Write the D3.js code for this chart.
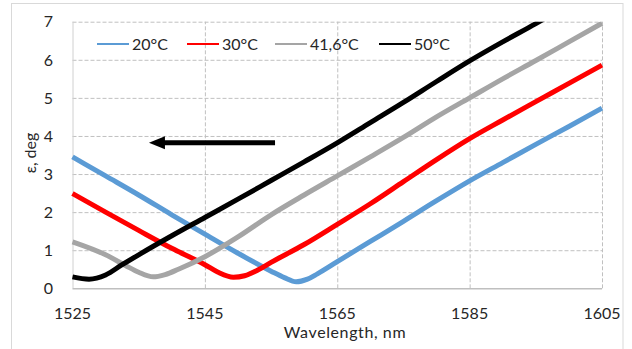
<!DOCTYPE html>
<html>
<head>
<meta charset="utf-8">
<script src="https://cdn.jsdelivr.net/npm/d3@7"></script>
<style>
  body { margin: 0; background: #fff; }
  svg { display: block; font-family: Lato, "Open Sans", sans-serif; }
</style>
</head>
<body>
<svg></svg>
<script>
const width = 632
const height = 349

// wavelength (nm) and epsilon (deg)
const wl20 = [1525, 1530, 1535, 1540, 1545, 1550, 1555, 1557, 1558.8, 1560.5, 1562, 1565, 1570, 1575, 1580, 1585, 1590, 1595, 1600, 1605]
const eps20 = [3.45, 2.95, 2.45, 1.93, 1.42, 0.92, 0.45, 0.28, 0.17, 0.24, 0.38, 0.7, 1.23, 1.76, 2.3, 2.82, 3.3, 3.78, 4.25, 4.73]

const wl30 = [1525, 1530, 1535, 1540, 1545, 1547, 1549.3, 1551, 1553, 1555, 1560, 1565, 1570, 1575, 1580, 1585, 1590, 1595, 1600, 1605]
const eps30 = [2.49, 2.0, 1.52, 1.05, 0.62, 0.42, 0.29, 0.33, 0.48, 0.68, 1.15, 1.68, 2.22, 2.8, 3.38, 3.93, 4.42, 4.9, 5.38, 5.86]

const wl416 = [1525, 1530, 1533, 1535, 1537.2, 1539, 1541, 1545, 1550, 1555, 1560, 1565, 1570, 1575, 1580, 1585, 1590, 1595, 1600, 1605]
const eps416 = [1.22, 0.88, 0.6, 0.42, 0.3, 0.36, 0.5, 0.83, 1.35, 1.93, 2.45, 2.95, 3.45, 3.96, 4.5, 5.0, 5.5, 5.98, 6.47, 6.96]

const wl50 = [1525, 1527.5, 1530, 1532.5, 1535, 1540, 1545, 1550, 1555, 1560, 1565, 1570, 1575, 1580, 1585, 1590, 1595, 1597]
const eps50 = [0.3, 0.24, 0.35, 0.62, 0.88, 1.38, 1.86, 2.34, 2.83, 3.32, 3.82, 4.35, 4.88, 5.43, 5.97, 6.47, 6.95, 7.15]

const seriesNames = ["20°C", "30°C", "41,6°C", "50°C"]
const seriesColors = ["#5b9bd5", "#ff0000", "#a5a5a5", "#000000"]

const xTicks = [1525, 1545, 1565, 1585, 1605]
const yTicks = [0, 1, 2, 3, 4, 5, 6, 7]

const series = [
  { name: seriesNames[0], color: seriesColors[0], wl: wl20, eps: eps20 },
  { name: seriesNames[1], color: seriesColors[1], wl: wl30, eps: eps30 },
  { name: seriesNames[2], color: seriesColors[2], wl: wl416, eps: eps416 },
  { name: seriesNames[3], color: seriesColors[3], wl: wl50, eps: eps50 }
]

const margin = { left: 72.5, right: 30, top: 21.7, bottom: 60.7 }

const svg = d3.select("svg")
  .attr("width", width)
  .attr("height", height)

// outer chart frame
svg.append("rect")
  .attr("x", 11.5)
  .attr("y", 3.5)
  .attr("width", 611.5)
  .attr("height", 360)
  .attr("fill", "none")
  .attr("stroke", "#d9d9d9")

const x = d3.scaleLinear()
  .domain([1525, 1605])
  .range([margin.left, width - margin.right])

const y = d3.scaleLinear()
  .domain([0, 7])
  .range([height - margin.bottom, margin.top])

// grid
const grid = svg.append("g")
  .attr("stroke", "#c0c0c0")
  .attr("stroke-dasharray", "4,2")

grid.selectAll(".hgrid")
  .data(yTicks.filter(d => d > 0))
  .enter()
  .append("line")
  .attr("x1", x(1525))
  .attr("x2", x(1605))
  .attr("y1", d => y(d) + 0.5)
  .attr("y2", d => y(d) + 0.5)

grid.selectAll(".vgrid")
  .data(xTicks.filter(d => d > 1525))
  .enter()
  .append("line")
  .attr("x1", d => x(d) + 0.5)
  .attr("x2", d => x(d) + 0.5)
  .attr("y1", y(0))
  .attr("y2", y(7))

// axis lines
svg.append("line")
  .attr("x1", x(1525)).attr("x2", x(1605))
  .attr("y1", y(0) + 0.5).attr("y2", y(0) + 0.5)
  .attr("stroke", "#bfbfbf")
  .attr("stroke-width", 1.5)

svg.append("line")
  .attr("x1", x(1525) + 0.5).attr("x2", x(1525) + 0.5)
  .attr("y1", y(0)).attr("y2", y(7))
  .attr("stroke", "#d0d0d0")

// tick labels
svg.append("g")
  .selectAll("text")
  .data(yTicks)
  .enter()
  .append("text")
  .attr("x", 53)
  .attr("y", d => y(d))
  .attr("dy", "0.36em")
  .attr("text-anchor", "end")
  .attr("font-size", 16)
  .attr("fill", "#262626")
  .text(d => d)

svg.append("g")
  .selectAll("text")
  .data(xTicks)
  .enter()
  .append("text")
  .attr("x", d => x(d))
  .attr("y", 318.5)
  .attr("text-anchor", "middle")
  .attr("font-size", 16)
  .attr("fill", "#262626")
  .text(d => d)

svg.append("text")
  .attr("x", 345)
  .attr("y", 338)
  .attr("text-anchor", "middle")
  .attr("font-size", 16)
  .attr("letter-spacing", 0.6)
  .attr("fill", "#262626")
  .text("Wavelength, nm")

svg.append("text")
  .attr("transform", "translate(36,153) rotate(-90)")
  .attr("text-anchor", "middle")
  .attr("font-size", 16)
  .attr("fill", "#262626")
  .text("ε, deg")

// data lines
svg.append("clipPath")
  .attr("id", "plotclip")
  .append("rect")
  .attr("x", x(1525) - 3)
  .attr("y", y(7))
  .attr("width", x(1605) - x(1525) + 6)
  .attr("height", y(0) - y(7))

const line = d3.line()
  .curve(d3.curveMonotoneX)
  .x(d => x(d[0]))
  .y(d => y(d[1]))

svg.append("g")
  .attr("clip-path", "url(#plotclip)")
  .selectAll("path")
  .data(series)
  .enter()
  .append("path")
  .attr("fill", "none")
  .attr("stroke", d => d.color)
  .attr("stroke-width", 5)
  .attr("stroke-linejoin", "round")
  .attr("d", d => line(d.wl.map((w, i) => [w, d.eps[i]])))

// legend
const legendX = [97, 187, 275, 379]
const legend = svg.append("g")
  .selectAll("g")
  .data(series)
  .enter()
  .append("g")
  .attr("transform", (d, i) => "translate(" + legendX[i] + ",44)")

legend.append("line")
  .attr("x1", 0)
  .attr("x2", 32)
  .attr("stroke", d => d.color)
  .attr("stroke-width", 2)

legend.append("text")
  .attr("x", 35)
  .attr("dy", "0.36em")
  .attr("font-size", 16)
  .attr("fill", "#262626")
  .text(d => d.name)

// arrow annotation (pointing to shorter wavelengths)
const arrowY = y(3.82)
const arrowTip = x(1536.55)
svg.append("line")
  .attr("x1", x(1555.6))
  .attr("x2", arrowTip + 12)
  .attr("y1", arrowY)
  .attr("y2", arrowY)
  .attr("stroke", "#000")
  .attr("stroke-width", 5)

svg.append("path")
  .attr("d", "M" + arrowTip + "," + arrowY +
    " L" + (arrowTip + 16) + "," + (arrowY - 6.5) +
    " L" + (arrowTip + 16) + "," + (arrowY + 6.5) + " Z")
  .attr("fill", "#000")
</script>
</body>
</html>
